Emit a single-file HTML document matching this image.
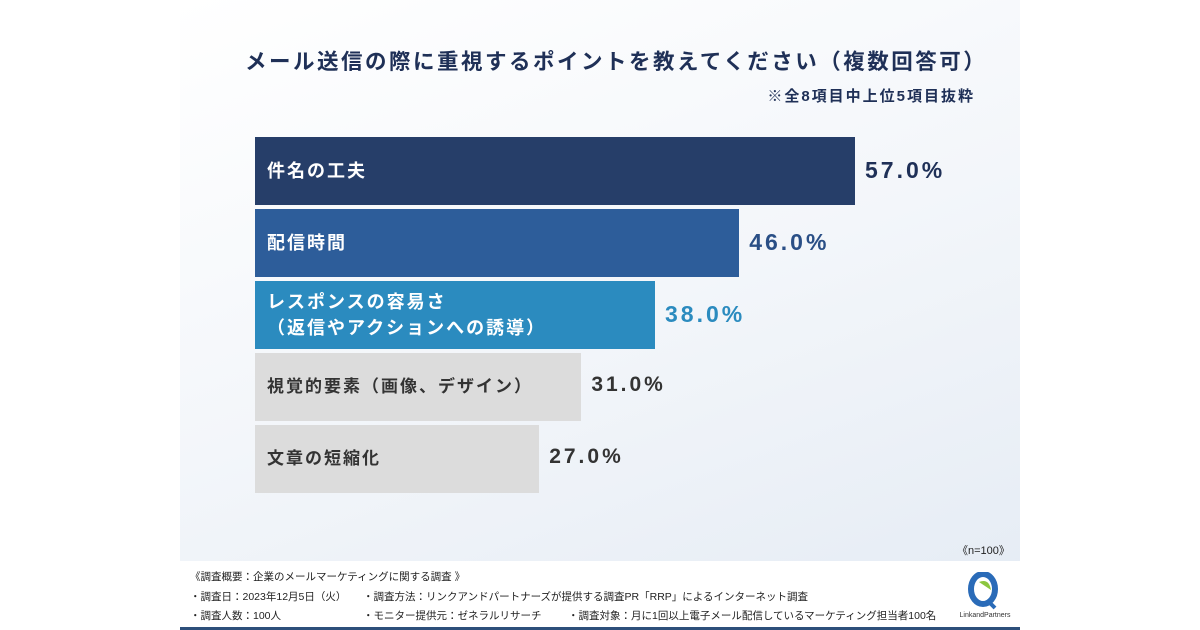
<!DOCTYPE html>
<html><head><meta charset="utf-8"><style>
body{margin:0;width:1200px;height:630px;background:#fff;overflow:hidden;font-family:"Liberation Sans","Noto Sans CJK JP",sans-serif;}
#panel{position:absolute;left:180px;top:0;width:840px;height:630px;background:linear-gradient(160deg,#ffffff 0%,#f3f6fa 50%,#e4ebf4 100%);}
#footer{position:absolute;left:180px;top:561px;width:840px;height:66px;background:#fff;border-bottom:3px solid #2d4f7a;}
.t{position:absolute;white-space:nowrap;}
.bar{position:absolute;}
.lbl{position:absolute;font-weight:bold;font-size:18px;letter-spacing:2px;line-height:26px;}
.val{position:absolute;font-weight:bold;font-size:21px;letter-spacing:3px;}
.f{position:absolute;font-size:10.5px;color:#222;white-space:nowrap;}
</style></head><body>
<div id="panel"></div>
<div class="t" style="left:245px;top:45px;font-size:21.5px;font-weight:bold;color:#1f3057;letter-spacing:2.5px;">メール送信の際に重視するポイントを教えてください（複数回答可）</div>
<div class="t" style="right:225px;top:85px;font-size:15px;font-weight:bold;color:#1f3057;letter-spacing:2px;">※全8項目中上位5項目抜粋</div>
<div id="chart"></div>
<div class="t" style="left:957px;top:542px;font-size:11px;color:#222;">《n=100》</div>
<div id="footer"></div>
<div class="f" style="left:190px;top:569px;">《調査概要：企業のメールマーケティングに関する調査 》</div>
<div class="f" style="left:190px;top:589px;">・調査日：2023年12月5日（火）</div>
<div class="f" style="left:363px;top:589px;">・調査方法：リンクアンドパートナーズが提供する調査PR「RRP」によるインターネット調査</div>
<div class="f" style="left:190px;top:608px;">・調査人数：100人</div>
<div class="f" style="left:363px;top:608px;">・モニター提供元：ゼネラルリサーチ</div>
<div class="f" style="left:568px;top:608px;">・調査対象：月に1回以上電子メール配信しているマーケティング担当者100名</div>
<div style="position:absolute;left:955px;top:572px;width:60px;height:48px;">
<svg width="60" height="48"><ellipse cx="28" cy="17" rx="12" ry="15" fill="none" stroke="#2a6bb8" stroke-width="6"/><path d="M24 10 Q34 6 36 18 Q30 14 24 10Z" fill="#8cc63f"/><path d="M32 28 L40 36" stroke="#2a6bb8" stroke-width="4"/><text x="30" y="45" font-size="7" text-anchor="middle" fill="#333" font-family="Liberation Sans">LinkandPartners</text></svg></div>
<script>
const categories=["件名の工夫","配信時間","レスポンスの容易さ\n（返信やアクションへの誘導）","視覚的要素（画像、デザイン）","文章の短縮化"];
const values=[57.0,46.0,38.0,31.0,27.0];
const barColors=["#263e69","#2d5d9a","#2b8bbf","#dcdcdc","#dcdcdc"];
const labelColors=["#fff","#fff","#fff","#333","#333"];
const valueColors=["#1f3057","#2a4f86","#2b8bbf","#333","#333"];
const x0=255,pxPer=600/57,y0=137,pitch=72,h=68;
const xs=v=>x0+v*pxPer;
const chart=document.getElementById('chart');
values.forEach((v,i)=>{
  const y=y0+i*pitch, x1=xs(v);
  const b=document.createElement('div');
  b.className='bar';
  
  
  b.style.cssText=`left:${x0}px;top:${y}px;width:${x1-x0}px;height:${h}px;background:${barColors[i]};`;
  chart.appendChild(b);
  const l=document.createElement('div');
  l.className='lbl';
  
  
  const lines=categories[i].split('\n');
  l.innerHTML=lines.join('<br>');
  l.style.cssText+=`left:${x0+12}px;top:${y+h/2-lines.length*13}px;color:${labelColors[i]};font-size:${i<3?18:17}px;`;
  chart.appendChild(l);
  const t=document.createElement('div');
  t.className='val';
  
  
  t.textContent=v.toFixed(1)+'%';
  t.style.cssText+=`left:${x1+10}px;top:${y+h/2-14}px;color:${valueColors[i]};font-size:${i<3?23:21}px;`;
  chart.appendChild(t);
});
</script>
</body></html>
